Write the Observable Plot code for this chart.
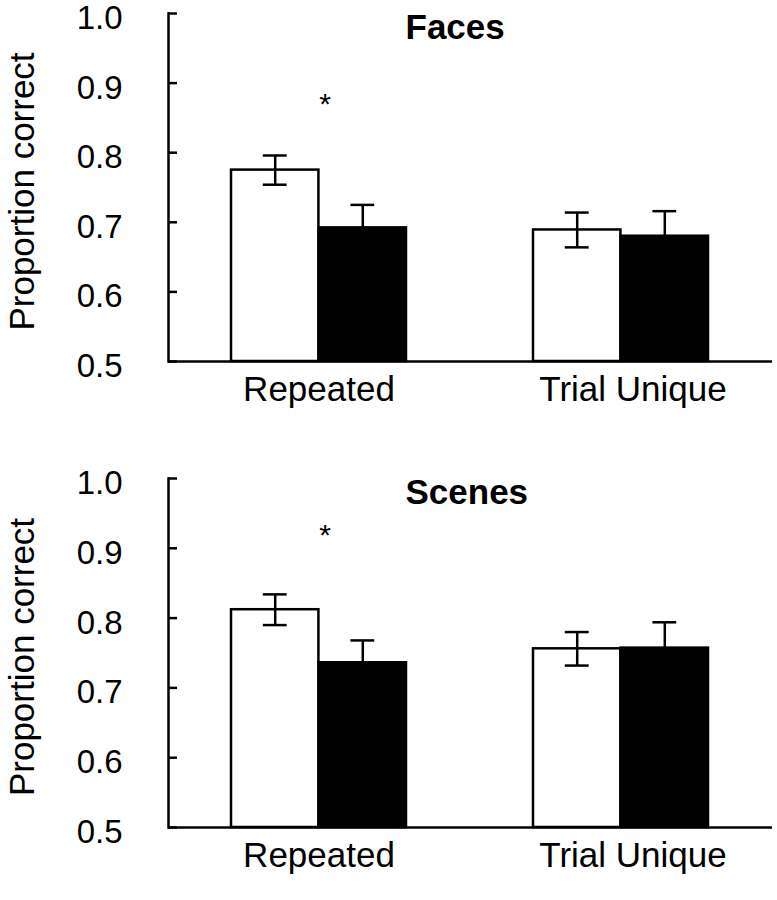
<!DOCTYPE html>
<html>
<head>
<meta charset="utf-8">
<script src="https://cdn.jsdelivr.net/npm/d3@7"></script>
<script src="https://cdn.jsdelivr.net/npm/@observablehq/plot@0.6"></script>
<style>
  body { margin: 0; background: white; }
  #chart > svg { display: block; }
</style>
</head>
<body>
<div id="chart"></div>
<script>
// ---- Data ----
const groups = ["Repeated", "Trial Unique"];
const yTicks = [0.5, 0.6, 0.7, 0.8, 0.9, 1.0];

// Faces panel
const facesOpenMean   = [0.775, 0.689];
const facesOpenErr    = [0.021, 0.025];
const facesFilledMean = [0.692, 0.680];
const facesFilledErr  = [0.033, 0.036];
const facesStar       = [{group: "Repeated", y: 0.870}];

// Scenes panel
const scenesOpenMean   = [0.812, 0.756];
const scenesOpenErr    = [0.022, 0.024];
const scenesFilledMean = [0.736, 0.757];
const scenesFilledErr  = [0.032, 0.037];
const scenesStar       = [{group: "Repeated", y: 0.918}];

const FONT = "'Liberation Sans', Arial, Helvetica, sans-serif";

function panel(title, oM, oE, fM, fE, stars, height, marginBottom) {
  const open = groups.map((g, i) => ({group: g, v: oM[i], e: oE[i]}));
  const filled = groups.map((g, i) => ({group: g, v: fM[i], e: fE[i]}));
  const W = 777, mL = 168, mR = 5;
  const pIn = 0.42, pOut = 0.21;
  const step = (W - mL - mR) / (groups.length - pIn + 2 * pOut);
  const bw = step * (1 - pIn);
  const q = bw / 4, cap = 12, sw = 2.5;
  const plotW = W - mL - mR;
  return Plot.plot({
    width: W, height,
    marginLeft: mL, marginRight: mR, marginTop: 13, marginBottom,
    style: {fontFamily: FONT, background: "white", color: "black", overflow: "visible"},
    x: {type: "band", domain: groups, paddingInner: pIn, paddingOuter: pOut, label: null},
    y: {domain: [0.5, 1.0], label: null},
    marks: [
      Plot.barY(open, {x: "group", y1: 0.5, y2: "v", fill: "white", stroke: "black", strokeWidth: sw, insetRight: bw / 2}),
      Plot.barY(filled, {x: "group", y1: 0.5, y2: "v", fill: "black", stroke: "black", strokeWidth: sw, insetLeft: bw / 2}),
      // error bars
      Plot.ruleX(open, {x: "group", y1: d => d.v - d.e, y2: d => d.v + d.e, dx: -q, stroke: "black", strokeWidth: sw}),
      Plot.tickY(open, {x: "group", y: d => d.v + d.e, insetLeft: q - cap, insetRight: bw - q - cap, stroke: "black", strokeWidth: sw}),
      Plot.tickY(open, {x: "group", y: d => d.v - d.e, insetLeft: q - cap, insetRight: bw - q - cap, stroke: "black", strokeWidth: sw}),
      Plot.ruleX(filled, {x: "group", y1: d => d.v - d.e, y2: d => d.v + d.e, dx: q, stroke: "black", strokeWidth: sw}),
      Plot.tickY(filled, {x: "group", y: d => d.v + d.e, insetLeft: 3 * q - cap, insetRight: q - cap, stroke: "black", strokeWidth: sw}),
      // axes
      Plot.frame({anchor: "left", stroke: "black", strokeWidth: sw}),
      Plot.ruleY([0.5], {stroke: "black", strokeWidth: sw}),
      Plot.tickY(yTicks, {y: d => d, insetRight: plotW - 9, stroke: "black", strokeWidth: sw}),
      Plot.axisY(yTicks, {tickSize: 0, tickPadding: 46, dy: 5, fontSize: 33, tickFormat: d3.format(".1f"), label: null}),
      Plot.axisX([groups[0]], {tickSize: 0, tickPadding: 15, fontSize: 35, label: null}),
      Plot.axisX([groups[1]], {tickSize: 0, tickPadding: 15, dx: 12, fontSize: 35, label: null}),
      Plot.text(["Proportion correct"], {text: d => d, frameAnchor: "left", textAnchor: "middle", rotate: -90, dx: -146, dy: 4, fontSize: 35}),
      Plot.text([title], {text: d => d, frameAnchor: "top-left", dx: 237, dy: 1, textAnchor: "start", lineAnchor: "top", fontWeight: "bold", fontSize: 35}),
      Plot.text(stars, {x: "group", y: "y", text: () => "*", dx: 6, fontSize: 30})
    ]
  });
}

const chart = document.getElementById("chart");
chart.append(panel("Faces", facesOpenMean, facesOpenErr, facesFilledMean, facesFilledErr, facesStar, 465, 104));
chart.append(panel("Scenes", scenesOpenMean, scenesOpenErr, scenesFilledMean, scenesFilledErr, scenesStar, 435, 73));
</script>
</body>
</html>
